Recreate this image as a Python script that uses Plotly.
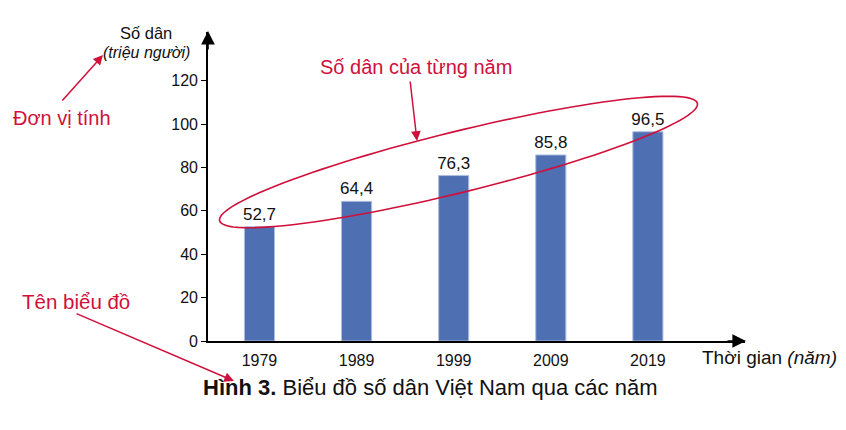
import numpy as np
import plotly.graph_objects as go

years = ["1979", "1989", "1999", "2009", "2019"]
population = [52.7, 64.4, 76.3, 85.8, 96.5]
labels = ["52,7", "64,4", "76,3", "85,8", "96,5"]
y_ticks = [0, 20, 40, 60, 80, 100, 120]

OFF = 8  # default page body margin
W, H = 846 - OFF, 430 - OFF
# plot-area edges in screen pixels
L, R, T, B = 208, 745, 32, 341
RED = "#d0103a"
BAR = "#4f6fb3"
FONT = "Liberation Sans, Arial, sans-serif"


def px(x):
    return (x - L) / (R - L)


def py(y):
    return (B - y) / (B - T)


fig = go.Figure()
fig.add_trace(go.Bar(
    x=years, y=population, text=labels, textposition="outside",
    constraintext="none",
    textfont=dict(size=17, color="#111", family=FONT),
    marker=dict(color=BAR, line=dict(color="#aebde0", width=1)),
    width=0.31, cliponaxis=False,
))

anns = []
# axis arrowheads
anns.append(dict(x=px(208), y=py(31), xref="paper", yref="paper",
                 ax=0, ay=20, axref="pixel", ayref="pixel", text="",
                 showarrow=True, arrowhead=2, arrowsize=1.7, arrowwidth=1.6,
                 arrowcolor="black"))
anns.append(dict(x=px(746), y=py(341), xref="paper", yref="paper",
                 ax=-20, ay=0, text="",
                 showarrow=True, arrowhead=2, arrowsize=1.7, arrowwidth=1.6,
                 arrowcolor="black"))


def red_arrow(tail, head):
    return dict(x=px(head[0]), y=py(head[1]), xref="paper", yref="paper",
                ax=tail[0] - head[0], ay=tail[1] - head[1], text="",
                showarrow=True, arrowhead=2, arrowsize=1.3, arrowwidth=1.5,
                arrowcolor=RED)


anns.append(red_arrow((61, 102), (103, 55)))
anns.append(red_arrow((410, 80), (417, 141)))
anns.append(red_arrow((75, 313), (234, 381)))


def txt(x, y, s, size, color="#111", xanchor="center"):
    return dict(x=px(x), y=py(y), xref="paper", yref="paper", text=s,
                showarrow=False, xanchor=xanchor, yanchor="middle",
                font=dict(size=size, color=color, family=FONT))


anns.append(txt(146, 33, "Số dân", 16.5))
anns.append(txt(146, 53, "<i>(triệu người)</i>", 16))
anns.append(txt(62, 118, "Đơn vị tính", 20, RED))
anns.append(txt(416, 67, "Số dân của từng năm", 20, RED))
anns.append(txt(76, 301, "Tên biểu đồ", 20.5, RED))
anns.append(txt(700, 358, "Thời gian <i>(năm)</i>", 19, "#111", "left"))
anns.append(txt(430, 387, "<b>Hình 3.</b> Biểu đồ số dân Việt Nam qua các năm", 22))

# rotated ellipse around the bar tops
cx, cy = 458.5, 162.0
a, b = 246.0, 30.5
th = np.deg2rad(13.8)
t = np.linspace(0, 2 * np.pi, 121)
ex = cx + a * np.cos(t) * np.cos(th) + b * np.sin(t) * np.sin(th)
ey = cy - a * np.cos(t) * np.sin(th) + b * np.sin(t) * np.cos(th)
path = "M " + " L ".join(f"{px(X):.5f},{py(Y):.5f}" for X, Y in zip(ex, ey)) + " Z"

fig.update_layout(
    width=W, height=H,
    margin=dict(l=L - OFF, r=W - (R - OFF), t=T - OFF, b=H - (B - OFF)),
    paper_bgcolor="white", plot_bgcolor="white",
    showlegend=False,
    font=dict(family=FONT, color="#111"),
    annotations=anns,
    shapes=[dict(type="path", path=path, xref="paper", yref="paper",
                 line=dict(color=RED, width=1.6))],
    xaxis=dict(type="category", range=[-0.53, 5.0], showline=True,
               linecolor="black", linewidth=1.6, ticks="", showgrid=False,
               ticklabelstandoff=4,
               tickfont=dict(size=16, color="#111", family=FONT), zeroline=False),
    yaxis=dict(range=[0, 142.5], tickvals=y_ticks, showline=True,
               linecolor="black", linewidth=1.6, ticks="outside", ticklen=5,
               tickcolor="black", tickwidth=1.2, showgrid=False, zeroline=False,
               tickfont=dict(size=16, color="#111", family=FONT)),
)

fig.write_html("out.html")
